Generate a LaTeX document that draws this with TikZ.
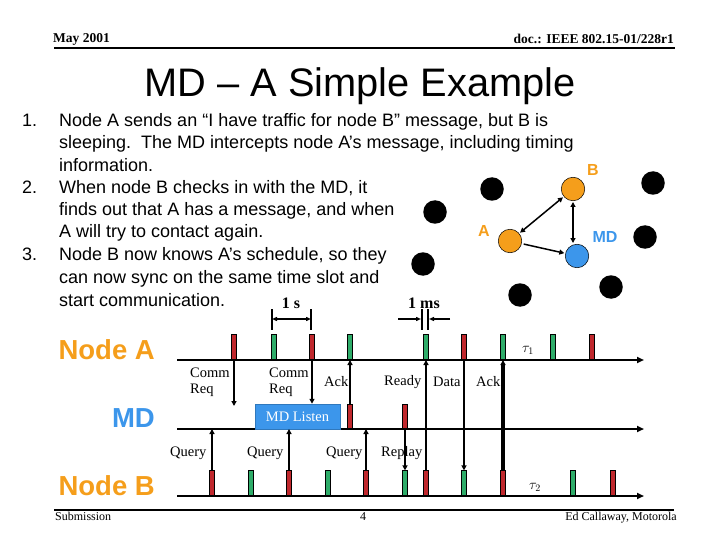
\documentclass[tikz,border=0pt]{standalone}
\usepackage{fontspec}
\setmainfont{Liberation Serif}
\setsansfont{Liberation Sans}
\usetikzlibrary{arrows.meta}
\definecolor{orng}{RGB}{245,158,27}
\definecolor{mdblue}{RGB}{60,150,235}
\definecolor{tred}{RGB}{192,40,45}
\definecolor{tgreen}{RGB}{46,172,105}
\tikzset{
  body/.style={font=\sffamily\fontsize{18}{21}\selectfont, anchor=base west, inner sep=0pt},
  tickbase/.style={draw=black, line width=0.6pt, minimum width=5pt, minimum height=25pt, inner sep=0pt, anchor=south},
  axis/.style={line width=2pt, -{Triangle[length=7pt,width=6pt]}},
  msg/.style={line width=2.2pt, -{Triangle[length=5pt,width=5pt]}},
  tlabel/.style={font=\fontsize{14.5}{16.5}\selectfont, inner sep=0pt, anchor=west, align=left},
  lane/.style={font=\sffamily\bfseries\fontsize{27.5}{29}\selectfont, anchor=base east, inner sep=0pt},
  dot/.style={circle, minimum size=23.5pt, inner sep=0pt},
  blackdot/.style={dot, fill=black},
  netlabel/.style={font=\sffamily\bfseries\fontsize{16}{18}\selectfont, inner sep=0pt},
  netarrow/.style={line width=1.5pt, {Triangle[length=5pt,width=5pt]}-{Triangle[length=5pt,width=5pt]}},
  small/.style={font=\fontsize{12}{14}\selectfont, inner sep=0pt},
  hdr/.style={font=\bfseries\fontsize{13.5}{15}\selectfont, inner sep=0pt},
  dim/.style={line width=1.6pt}
}
\begin{document}
\begin{tikzpicture}[x=1pt,y=-1pt]
\useasboundingbox (0,0) rectangle (720,540);
% header / footer
\node[hdr, anchor=base west] (hdl) at (53,42.5) {May 2001};
\node[hdr, anchor=base east] (hdr) at (674,43.5) {doc.: IEEE 802.15-01/228r1};
\coordinate (hl0) at (54,48); \coordinate (hl1) at (675,48);
\draw[line width=1.7pt] (hl0) -- (hl1);
\coordinate (fl0) at (54,510); \coordinate (fl1) at (674,510);
\draw[line width=1.5pt] (fl0) -- (fl1);
\node[small, anchor=base west] (ftl) at (55,520) {Submission};
\node[small, anchor=base] (ftc) at (363,520) {4};
\node[small, anchor=base east] (ftr) at (677,520) {Ed Callaway, Motorola};
% title
\node[font=\sffamily\fontsize{39.8}{42}\selectfont, anchor=base, inner sep=0pt] (title) at (360,97) {MD – A Simple Example};
% body
\node[body] (n1) at (22,126.5) {1.};
\node[body] (n2) at (22,193.5) {2.};
\node[body] (n3) at (22,260.5) {3.};
\node[body] (t1) at (59,126.5) {Node A sends an “I have traffic for node B” message, but B is};
\node[body] (t2) at (59,149) {sleeping.\ \ The MD intercepts node A’s message, including timing};
\node[body] (t3) at (59,171.5) {information.};
\node[body] (t4) at (59,193.5) {When node B checks in with the MD, it};
\node[body] (t5) at (59,215.5) {finds out that A has a message, and when};
\node[body] (t6) at (59,237.5) {A will try to contact again.};
\node[body] (t7) at (59,260.5) {Node B now knows A’s schedule, so they};
\node[body] (t8) at (59,283.5) {can now sync on the same time slot and};
\node[body] (t9) at (59,306) {start communication.};
% network
\node[blackdot] (k1) at (492,189) {};
\node[blackdot] (k2) at (435,212) {};
\node[blackdot] (k3) at (423,264) {};
\node[blackdot] (k4) at (520,295) {};
\node[blackdot] (k5) at (611,287) {};
\node[blackdot] (k6) at (645,237) {};
\node[blackdot] (k7) at (653,183) {};
\node[dot, fill=orng, draw=black, line width=0.5pt] (nB) at (573,189) {};
\node[dot, fill=orng, draw=black, line width=0.5pt] (nA) at (510,241) {};
\node[dot, fill=mdblue, draw=black, line width=0.5pt] (nMD) at (577,256) {};
\node[netlabel, text=orng] (lB) at (593,170) {B};
\node[netlabel, text=orng] (lA) at (484,231) {A};
\node[netlabel, text=mdblue] (lMD) at (605,237) {MD};
\draw[netarrow, shorten <=1pt, shorten >=1pt] (nA) -- (nB);
\draw[netarrow, shorten <=1pt, shorten >=1pt] (nB.south) -- (nB.south |- nMD.north);
\draw[line width=1.5pt, -{Triangle[length=5pt,width=5pt]}, shorten <=2pt, shorten >=1pt] (nA) -- (nMD);
% lane labels
\node[lane, text=orng] (laneA) at (155,359) {Node A};
\node[lane, text=mdblue] (laneMD) at (155,427) {MD};
\node[lane, text=orng] (laneB) at (155,495) {Node B};
% axes
\coordinate (axA0) at (177,360); \coordinate (axA1) at (644,360);
\coordinate (axM0) at (177,429); \coordinate (axM1) at (644,429);
\coordinate (axB0) at (177,496); \coordinate (axB1) at (644,496);
\draw[axis] (axA0) -- (axA1);
\draw[axis] (axM0) -- (axM1);
\draw[axis] (axB0) -- (axB1);
% MD listen box
\node[fill=mdblue, draw=mdblue!80!black, line width=0.5pt, minimum width=85pt, minimum height=25pt, inner sep=0pt, text=white, font=\fontsize{14.5}{16}\selectfont] (listen) at (297.5,416.5) {MD Listen};
% ticks
\foreach \x/\c [count=\i] in {234/tred,274/tgreen,312/tred,350/tgreen,426/tgreen,464/tred,503/tgreen,553/tgreen,592/tred}
  \node[tickbase, fill=\c] (a\i) at (\x,360) {};
\foreach \x/\c [count=\i] in {350/tred,405/tred}
  \node[tickbase, fill=\c, minimum height=24pt] (m\i) at (\x,429) {};
\foreach \x/\c [count=\i] in {212/tred,251/tgreen,289/tred,328/tgreen,366/tred,405/tgreen,426/tred,464/tgreen,503/tred,573/tgreen,613/tred}
  \node[tickbase, fill=\c] (b\i) at (\x,496) {};
% messages
\coordinate (cr1) at (234,406);
\draw[msg] (a1.south) -- (cr1);
\draw[msg] (a3.south) -- (a3.south |- listen.north);
\draw[msg] (m1.north) -- (a4.south);
\draw[msg] (b7.north) -- (a5.south);
\draw[msg] (a6.south) -- (b8.north);
\draw[msg, line width=3.2pt] (b9.north) -- (a7.south);
\draw[msg] (b1.north) -- (b1.north |- axM0);
\draw[msg] (b3.north) -- (b3.north |- axM0);
\draw[msg] (b5.north) -- (b5.north |- axM0);
\draw[msg] (m2.south) -- (b6.north);
% message labels
\node[tlabel] (lc1) at (190,382) {Comm\\Req};
\node[tlabel] (lc2) at (269,382) {Comm\\Req};
\node[tlabel] (lack1) at (324,382) {Ack};
\node[tlabel] (lready) at (384,382) {Ready};
\node[tlabel] (ldata) at (433,382) {Data};
\node[tlabel] (lack2) at (476,382) {Ack};
\node[tlabel] (lq1) at (170,453) {Query};
\node[tlabel] (lq2) at (247,453) {Query};
\node[tlabel] (lq3) at (326,453) {Query};
\node[tlabel] (lrep) at (381,453) {Replay};
\node[font=\fontsize{14}{16}\selectfont, inner sep=0pt] (tau1) at (528,350) {$\tau_1$};
\node[font=\fontsize{14}{16}\selectfont, inner sep=0pt] (tau2) at (535,487) {$\tau_2$};
% dimensions
\coordinate (s0t) at (272,309); \coordinate (s0b) at (272,330);
\coordinate (s1t) at (311,309); \coordinate (s1b) at (311,330);
\draw[dim] (s0t) -- (s0b);
\draw[dim] (s1t) -- (s1b);
\coordinate (sa) at (272,319); \coordinate (sb) at (311,319);
\draw[line width=1.4pt, {Triangle[length=5pt,width=4pt]}-{Triangle[length=5pt,width=4pt]}] (sa) -- (sb);
\node[font=\bfseries\fontsize{16}{18}\selectfont, anchor=base, inner sep=0pt] (l1s) at (291,308) {1 s};
\coordinate (m0t) at (422,309); \coordinate (m0b) at (422,330);
\coordinate (m1t) at (428,309); \coordinate (m1b) at (428,330);
\draw[dim] (m0t) -- (m0b);
\draw[dim] (m1t) -- (m1b);
\coordinate (ma0) at (398,319); \coordinate (ma1) at (421,319);
\coordinate (mb0) at (450,319); \coordinate (mb1) at (429,319);
\draw[line width=1.4pt, -{Triangle[length=5pt,width=4pt]}] (ma0) -- (ma1);
\draw[line width=1.4pt, -{Triangle[length=5pt,width=4pt]}] (mb0) -- (mb1);
\node[font=\bfseries\fontsize{16}{18}\selectfont, anchor=base, inner sep=0pt] (l1ms) at (424,308) {1 ms};
\end{tikzpicture}
\end{document}
